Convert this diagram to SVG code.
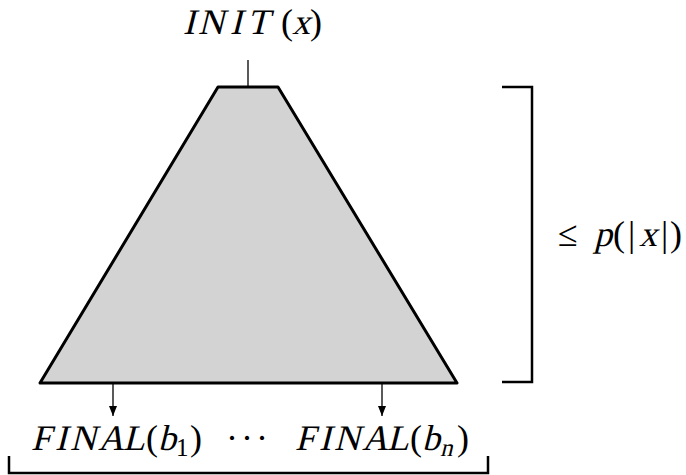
<svg xmlns="http://www.w3.org/2000/svg" width="686" height="475" viewBox="0 0 686 475">
<defs>
<marker id="ah" viewBox="0 0 10 10" refX="10" refY="5" markerWidth="10" markerHeight="10" markerUnits="userSpaceOnUse" orient="auto">
<path d="M0,1 L10,5 L0,9 Z" fill="#000"/>
</marker>
</defs>
<rect width="686" height="475" fill="#fff"/>
<g id="tree">
<polygon points="218,87 278,87 457,383 40,383" fill="#d3d3d3" stroke="#000" stroke-width="3" stroke-linejoin="round"/>
</g>
<g id="init" font-family="Liberation Serif, serif" font-size="36">
<text transform="translate(0,34) skewX(-14)" x="183 198 230 247" y="0">INIT</text>
<text x="281" y="34">(</text>
<text transform="translate(0,34) skewX(-14)" x="292" y="0">x</text>
<text x="310" y="34">)</text>
</g>
<g id="final1" font-family="Liberation Serif, serif" font-size="36">
<text transform="translate(0,450) skewX(-14)" x="31 55 70 98 123" y="0">FINAL</text>
<text x="146" y="450">(</text>
<text transform="translate(0,450) skewX(-14)" x="158" y="0">b</text>
<text x="176" y="456" font-size="25">1</text>
<text x="190" y="450">)</text>
</g>
<g id="dots" font-family="Liberation Serif, serif" font-size="36">
<text x="226 241 256" y="450">···</text>
</g>
<g id="finaln" font-family="Liberation Serif, serif" font-size="36">
<text transform="translate(0,450) skewX(-14)" x="295 319 334 362 387" y="0">FINAL</text>
<text x="410" y="450">(</text>
<text transform="translate(0,450) skewX(-14)" x="422" y="0">b</text>
<text transform="translate(0,456) skewX(-14)" x="440" y="0" font-size="25">n</text>
<text x="457" y="450">)</text>
</g>
<g id="bound" font-family="Liberation Serif, serif" font-size="36">
<text x="558" y="246">≤</text>
<text transform="translate(0,246) skewX(-14)" x="594" y="0">p</text>
<text x="613 628" y="246">(|</text>
<text transform="translate(0,246) skewX(-14)" x="639" y="0">x</text>
<text x="661 670" y="246">|)</text>
</g>
<g id="connectors" fill="none" stroke="#000">
<line x1="248" y1="60" x2="248" y2="87" stroke-width="1.3"/>
<line x1="113" y1="384" x2="113" y2="416" stroke-width="1.3" marker-end="url(#ah)"/>
<line x1="382" y1="384" x2="382" y2="416" stroke-width="1.3" marker-end="url(#ah)"/>
<polyline points="502,87 532,87 532,382 502,382" stroke-width="2.5"/>
<polyline points="9,456 9,473 488,473 488,456" stroke-width="2.5"/>
</g>
</svg>
